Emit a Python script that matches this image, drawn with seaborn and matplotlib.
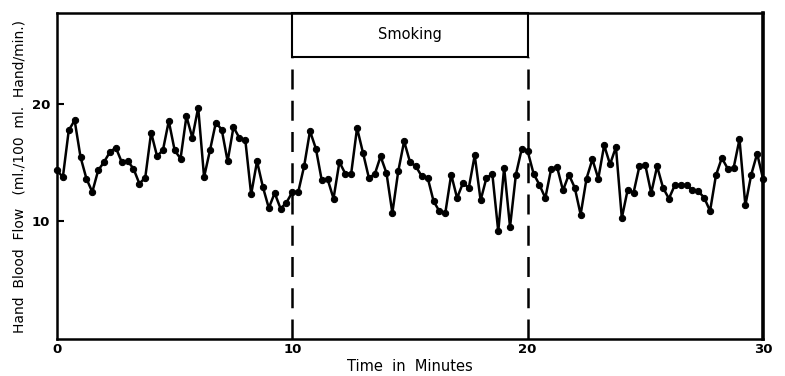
import numpy as np
import pandas as pd
import matplotlib
matplotlib.use("Agg")
import matplotlib.pyplot as plt
from matplotlib.patches import Rectangle
import seaborn as sns

# Readings every 15 s (0.25 min), 0..30 min
minutes = np.arange(121) * 0.25
flow = [
    14.33, 13.76, 17.73, 18.58, 15.46, 13.63, 12.49, 14.33, 15.04, 15.89,
    16.26, 15.04, 15.12, 14.48, 13.20, 13.71, 17.54, 15.55, 16.03, 18.52,
    16.03, 15.33, 18.92, 17.11, 19.66, 13.76, 16.03, 18.39, 17.79, 15.10,
    18.01, 17.08, 16.94, 12.29, 15.10, 12.91, 11.13, 12.40, 11.08, 11.59,
    12.49, 12.49, 14.67, 17.67, 16.18, 13.48, 13.57, 11.93, 15.04, 14.05,
    14.05, 17.93, 15.84, 13.71, 13.99, 15.52, 14.10, 10.71, 14.25, 16.80,
    15.04, 14.67, 13.82, 13.71, 11.72, 10.85, 10.71, 13.97, 11.98, 13.25,
    12.86, 15.61, 11.78, 13.71, 13.99, 9.15, 14.56, 9.52, 13.97, 16.18,
    15.95, 14.05, 13.10, 11.98, 14.48, 14.61, 12.63, 13.97, 12.86, 10.57,
    13.63, 15.27, 13.63, 16.46, 14.84, 16.31, 10.28, 12.69, 12.44, 14.70,
    14.76, 12.40, 14.67, 12.86, 11.93, 13.06, 13.12, 13.06, 12.63, 12.55,
    12.01, 10.88, 13.91, 15.38, 14.48, 14.53, 16.97, 11.36, 13.97, 15.75,
    13.63,
]
smoking_start, smoking_end = 10, 20
x_ticks = [0, 10, 20, 30]
y_ticks = [10, 20]

df = pd.DataFrame({"minutes": minutes, "flow": flow})

sns.set_style("white")
plt.rcParams['font.family'] = ['DejaVu Sans']
plt.rcParams['text.color'] = 'black'
plt.rcParams['axes.labelcolor'] = 'black'
plt.rcParams['xtick.color'] = 'black'
plt.rcParams['ytick.color'] = 'black'

fig = plt.figure(figsize=(7.85, 3.76), dpi=100)
ax = fig.add_axes([0.0726, 0.0984, 0.8994, 0.867])

sns.lineplot(data=df, x="minutes", y="flow", ax=ax, color="black",
             linewidth=1.8, marker="o", markersize=4.5,
             markeredgecolor="black", clip_on=False, zorder=3)

ymax = 27.7
box_bottom = 24.0
ax.set_xlim(0, 30)
ax.set_ylim(0, ymax)

# dashed markers for the smoking period
for xv in (smoking_start, smoking_end):
    ax.plot([xv, xv], [0, box_bottom], color="black", lw=1.8,
            linestyle=(0, (8, 4.5)), zorder=2)

ax.add_patch(Rectangle((smoking_start, box_bottom), smoking_end - smoking_start,
                       ymax - box_bottom, fill=False, edgecolor="black",
                       lw=1.5, clip_on=False, zorder=4))
ax.text((smoking_start + smoking_end) / 2, (box_bottom + ymax) / 2, "Smoking",
        ha="center", va="center", fontsize=10.5)

ax.set_xticks(x_ticks)
ax.set_yticks(y_ticks)
ax.tick_params(axis="x", length=0, labelsize=9.5, pad=3)
ax.tick_params(axis="y", direction="in", length=5, width=1.5, labelsize=9.5,
               pad=5, left=True)
for lab in ax.get_xticklabels() + ax.get_yticklabels():
    lab.set_fontweight("bold")

for side in ["left", "bottom", "top", "right"]:
    ax.spines[side].set_visible(True)
    ax.spines[side].set_color("black")
    ax.spines[side].set_linewidth(1.8)
ax.spines["right"].set_linewidth(2.6)

ax.set_xlabel("Time  in  Minutes", fontsize=10.5, labelpad=2)
ax.set_ylabel("Hand  Blood  Flow   (ml./100  ml.  Hand/min.)", fontsize=10,
              labelpad=4)
ax.grid(False)

fig.savefig("out.png", dpi=100)
